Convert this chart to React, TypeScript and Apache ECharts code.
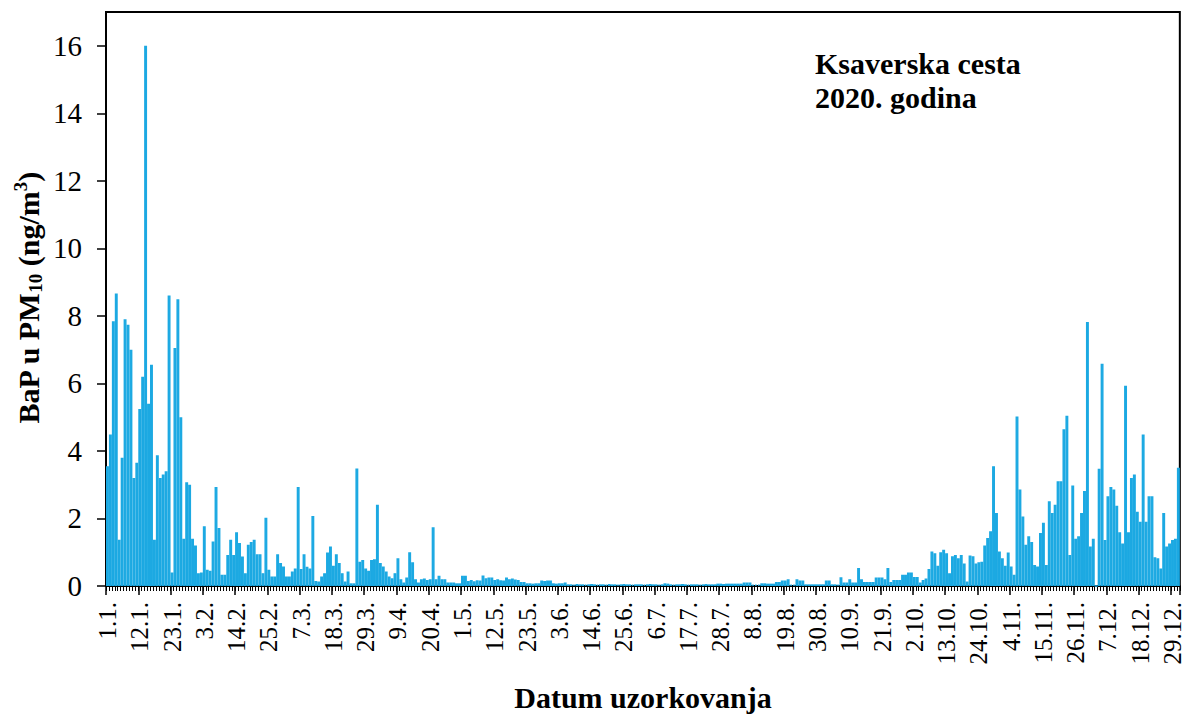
import React, { useEffect, useRef } from "react";
import * as echarts from "echarts";

// Daily BaP concentrations in PM10 (ng/m3), Ksaverska cesta, 2020
const JAN = [3.55, 4.49, 7.84, 8.66, 1.37, 3.8, 7.9, 7.74, 7.0, 3.2, 3.65, 5.24, 6.2, 16.0, 5.4, 6.55, 1.37, 3.87, 3.2, 3.3, 3.4, 8.6, 0.4, 7.05, 8.49, 5.0, 1.4, 3.07, 3.0, 1.4, 1.2];
const FEB = [0.38, 0.4, 1.77, 0.48, 0.45, 1.32, 2.93, 1.72, 0.33, 0.33, 0.92, 1.37, 0.92, 1.59, 1.27, 0.87, 0.38, 1.22, 1.3, 1.37, 0.94, 0.94, 0.38, 2.02, 0.48, 0.28, 0.28, 0.94, 0.68];
const MAR = [0.58, 0.28, 0.28, 0.43, 0.52, 2.93, 0.5, 0.94, 0.57, 0.52, 2.07, 0.15, 0.13, 0.28, 0.38, 0.99, 1.17, 0.6, 0.94, 0.68, 0.38, 0.13, 0.43, 0.08, 0.08, 3.48, 0.72, 0.77, 0.52, 0.45, 0.77];
const APR = [0.79, 2.41, 0.68, 0.58, 0.43, 0.28, 0.23, 0.38, 0.82, 0.2, 0.1, 0.25, 1.0, 0.7, 0.2, 0.1, 0.2, 0.22, 0.18, 0.2, 1.74, 0.2, 0.3, 0.2, 0.2, 0.1, 0.1, 0.1, 0.08, 0.08];
const MAY = [0.3, 0.3, 0.15, 0.18, 0.14, 0.17, 0.16, 0.31, 0.23, 0.25, 0.25, 0.18, 0.2, 0.17, 0.16, 0.25, 0.2, 0.22, 0.19, 0.18, 0.12, 0.12, 0.08, 0.08, 0.07, 0.08, 0.08, 0.16, 0.15, 0.16, 0.16];
const JUN = [0.08, 0.07, 0.08, 0.08, 0.1, 0.05, 0.05, 0.04, 0.06, 0.05, 0.05, 0.04, 0.05, 0.06, 0.05, 0.04, 0.05, 0.05, 0.04, 0.06, 0.05, 0.05, 0.04, 0.05, 0.06, 0.05, 0.05, 0.04, 0.05, 0.05];
const JUL = [0.05, 0.04, 0.05, 0.06, 0.05, 0.05, 0.04, 0.05, 0.08, 0.07, 0.05, 0.04, 0.05, 0.05, 0.06, 0.05, 0.04, 0.05, 0.05, 0.05, 0.04, 0.05, 0.06, 0.05, 0.05, 0.05, 0.07, 0.07, 0.06, 0.07, 0.07];
const AUG = [0.07, 0.07, 0.07, 0.07, 0.1, 0.1, 0.1, 0.04, 0.04, 0.04, 0.08, 0.08, 0.07, 0.07, 0.07, 0.12, 0.12, 0.16, 0.16, 0.2, 0.04, 0.04, 0.2, 0.16, 0.16, 0.05, 0.05, 0.05, 0.05, 0.05, 0.05];
const SEP = [0.05, 0.16, 0.16, 0.05, 0.05, 0.04, 0.26, 0.1, 0.1, 0.2, 0.1, 0.1, 0.53, 0.2, 0.12, 0.12, 0.12, 0.12, 0.25, 0.25, 0.25, 0.2, 0.53, 0.12, 0.18, 0.18, 0.18, 0.33, 0.33, 0.4];
const OCT = [0.4, 0.27, 0.27, 0.1, 0.18, 0.22, 0.5, 1.02, 0.97, 0.6, 1.0, 1.07, 0.97, 0.38, 0.88, 0.92, 0.82, 0.92, 0.67, 0.13, 0.9, 0.88, 0.67, 0.7, 0.72, 1.2, 1.42, 1.62, 3.55, 2.16, 1.02];
const NOV = [0.82, 0.6, 0.99, 0.58, 0.33, 5.02, 2.86, 2.06, 1.22, 1.47, 1.3, 0.62, 0.58, 1.57, 1.87, 0.62, 2.51, 2.16, 2.41, 3.1, 3.1, 4.64, 5.04, 0.92, 2.98, 1.4, 1.47, 2.16, 2.81, 7.82];
const DEC = [1.17, 1.4, 0.0, 3.47, 6.58, 1.36, 2.66, 2.93, 2.86, 2.38, 1.59, 1.26, 5.93, 1.59, 3.2, 3.3, 2.2, 1.9, 4.49, 1.9, 2.66, 2.66, 0.85, 0.82, 0.52, 2.16, 1.17, 1.26, 1.36, 1.4, 3.5];

const MONTHS = [JAN, FEB, MAR, APR, MAY, JUN, JUL, AUG, SEP, OCT, NOV, DEC];

const X_TICK_LABELS = [
  "1.1.", "12.1.", "23.1.", "3.2.", "14.2.", "25.2.", "7.3.", "18.3.", "29.3.", "9.4.", "20.4.",
  "1.5.", "12.5.", "23.5.", "3.6.", "14.6.", "25.6.", "6.7.", "17.7.", "28.7.", "8.8.", "19.8.",
  "30.8.", "10.9.", "21.9.", "2.10.", "13.10.", "24.10.", "4.11.", "15.11.", "26.11.", "7.12.",
  "18.12.", "29.12.",
];
const Y_TICKS = [0, 2, 4, 6, 8, 10, 12, 14, 16];

const TITLE_LINES = ["Ksaverska cesta", "2020. godina"];
const X_NAME = "Datum uzorkovanja";

const SERIF = "'Liberation Serif', 'Times New Roman', serif";
const BAR_COLOR = "#1CA9E2";

export default function App() {
  const ref = useRef<HTMLDivElement>(null);

  useEffect(() => {
    if (!ref.current) return;
    const chart = echarts.init(ref.current, null, { renderer: "svg" });

    const categories: string[] = [];
    MONTHS.forEach((arr, m) => {
      arr.forEach((_, d) => categories.push(`${d + 1}.${m + 1}.`));
    });
    const values = MONTHS.flat();

    const option: any = {
      animation: false,
      backgroundColor: "#ffffff",
      grid: {
        left: 106,
        right: 5,
        top: 12,
        bottom: 129,
        show: true,
        borderColor: "#000",
        borderWidth: 2,
        backgroundColor: "transparent",
      },
      xAxis: [
        {
          type: "category",
          data: categories,
          position: "bottom",
          boundaryGap: true,
          axisLine: { show: true, lineStyle: { color: "#000", width: 2 } },
          axisTick: { show: true, interval: 0, length: 5, lineStyle: { color: "#000", width: 1 } },
          axisLabel: { show: false },
          splitLine: { show: false },
        },
        {
          type: "category",
          data: categories,
          position: "bottom",
          boundaryGap: true,
          axisLine: { show: false },
          axisTick: { show: true, interval: 10, length: 9, lineStyle: { color: "#000", width: 1.5 } },
          axisLabel: {
            show: true,
            interval: 10,
            rotate: 90,
            margin: 16,
            fontFamily: SERIF,
            fontSize: 25,
            color: "#000",
            formatter: (_v: string, idx: number) =>
              idx % 11 === 0 ? X_TICK_LABELS[idx / 11] ?? "" : "",
          },
          splitLine: { show: false },
        },
      ],
      yAxis: {
        type: "value",
        min: 0,
        max: 17,
        interval: 2,
        axisLine: { show: true, lineStyle: { color: "#000", width: 2 } },
        axisTick: {
          show: true,
          length: 9,
          customValues: Y_TICKS,
          lineStyle: { color: "#000", width: 1.5 },
        },
        axisLabel: {
          show: true,
          customValues: Y_TICKS,
          margin: 24,
          fontFamily: SERIF,
          fontSize: 29,
          color: "#000",
        },
        splitLine: { show: false },
      },
      series: [
        {
          type: "bar",
          xAxisIndex: 0,
          data: values,
          barCategoryGap: "0%",
          barGap: "0%",
          itemStyle: { color: BAR_COLOR, borderColor: BAR_COLOR, borderWidth: 1.4 },
        },
      ],
      graphic: [
        {
          type: "text",
          left: 815,
          top: 46,
          style: {
            text: TITLE_LINES.join("\n"),
            fontFamily: SERIF,
            fontWeight: "bold",
            fontSize: 30,
            lineHeight: 34,
            fill: "#000",
          },
        },
        {
          type: "text",
          x: 643,
          y: 697,
          style: {
            text: X_NAME,
            fontFamily: SERIF,
            fontWeight: "bold",
            fontSize: 30,
            fill: "#000",
            align: "center",
            verticalAlign: "middle",
          },
        },
        {
          type: "text",
          x: 28,
          y: 298,
          rotation: Math.PI / 2,
          style: {
            text: "{m|BaP u PM}{s|10}{m| (ng/m}{p|3}{m|)}",
            align: "center",
            verticalAlign: "middle",
            fill: "#000",
            rich: {
              m: { fontFamily: SERIF, fontWeight: "bold", fontSize: 30, lineHeight: 34, fill: "#000" },
              s: { fontFamily: SERIF, fontWeight: "bold", fontSize: 19, lineHeight: 16, verticalAlign: "bottom", fill: "#000" },
              p: { fontFamily: SERIF, fontWeight: "bold", fontSize: 19, lineHeight: 16, verticalAlign: "top", fill: "#000" },
            },
          },
        },
      ],
    };

    chart.setOption(option);
    return () => chart.dispose();
  }, []);

  return (
    <div
      ref={ref}
      style={{ position: "absolute", left: 0, top: 0, width: 1185, height: 715 }}
    />
  );
}
